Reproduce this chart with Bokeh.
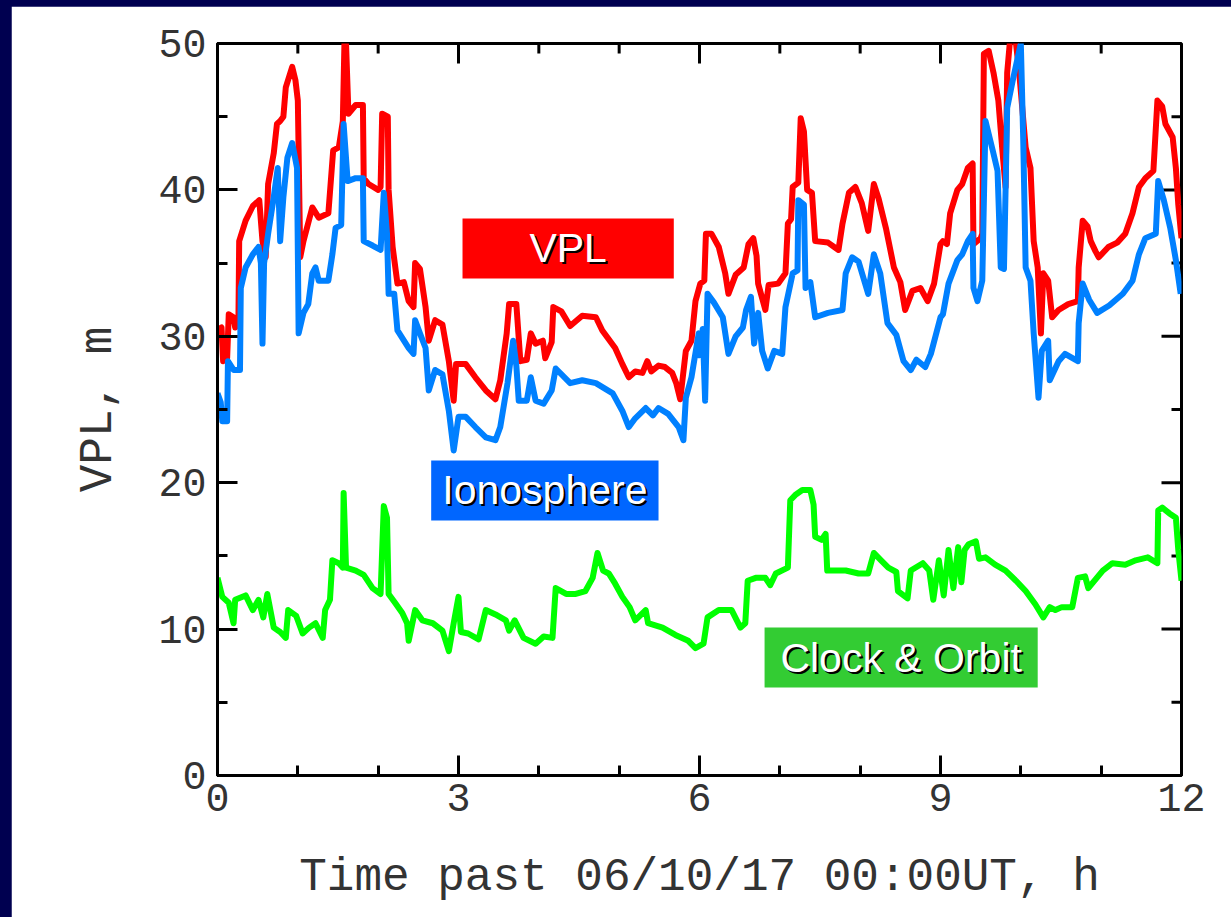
from bokeh.plotting import figure
from bokeh.layouts import column
from bokeh.models import Label, BoxAnnotation, FixedTicker, Range1d
from bokeh.embed import file_html
from bokeh.resources import INLINE

# ---------------- data ----------------
vpl_t = [0.00, 0.05, 0.07, 0.12, 0.14, 0.20, 0.22, 0.26, 0.27, 0.35, 0.44, 0.52, 0.56, 0.60, 0.63, 0.70,
         0.74, 0.78, 0.82, 0.85, 0.93, 0.97, 1.00, 1.03, 1.07, 1.18, 1.26, 1.38, 1.44, 1.51, 1.56, 1.58,
         1.60, 1.63, 1.72, 1.81, 1.82, 1.88, 2.00, 2.03, 2.05, 2.12, 2.13, 2.18, 2.24, 2.32, 2.38, 2.44,
         2.46, 2.52, 2.59, 2.63, 2.71, 2.80, 2.88, 2.94, 2.97, 3.09, 3.21, 3.34, 3.46, 3.52, 3.60, 3.63,
         3.72, 3.77, 3.85, 3.90, 3.96, 4.05, 4.08, 4.16, 4.18, 4.28, 4.39, 4.54, 4.71, 4.79, 4.95, 5.04,
         5.12, 5.20, 5.29, 5.35, 5.40, 5.49, 5.57, 5.66, 5.71, 5.76, 5.83, 5.90, 5.95, 6.01, 6.06, 6.08,
         6.15, 6.24, 6.32, 6.36, 6.45, 6.55, 6.61, 6.67, 6.71, 6.73, 6.82, 6.86, 6.98, 7.07, 7.10, 7.14,
         7.16, 7.23, 7.26, 7.30, 7.34, 7.40, 7.44, 7.60, 7.73, 7.78, 7.86, 7.94, 8.02, 8.10, 8.17, 8.23,
         8.32, 8.42, 8.50, 8.56, 8.65, 8.75, 8.84, 8.92, 9.00, 9.03, 9.08, 9.12, 9.21, 9.27, 9.34, 9.40,
         9.41, 9.50, 9.52, 9.54, 9.60, 9.66, 9.72, 9.77, 9.81, 9.83, 9.87, 9.93, 9.98, 10.06, 10.12, 10.16,
         10.21, 10.25, 10.28, 10.34, 10.39, 10.47, 10.59, 10.71, 10.72, 10.77, 10.83, 10.87, 10.93, 10.97,
         11.09, 11.20, 11.30, 11.39, 11.47, 11.55, 11.65, 11.70, 11.76, 11.80, 11.89, 11.93, 11.96, 12.00]
vpl_v = [30.4, 30.6, 28.3, 28.5, 31.5, 31.3, 30.6, 30.8, 36.5, 37.9, 38.9, 39.3, 36.5, 35.4, 40.4, 42.5,
         44.5, 44.7, 45.0, 47.0, 48.4, 47.5, 46.1, 35.4, 36.5, 38.8, 38.1, 38.4, 42.7, 42.9, 44.7, 50.0,
         50.0, 45.2, 45.8, 45.8, 40.8, 40.4, 40.0, 40.2, 45.2, 45.0, 40.0, 36.1, 33.6, 33.7, 32.4, 32.0,
         35.0, 34.6, 32.0, 29.7, 31.1, 30.8, 28.3, 25.6, 28.1, 28.1, 27.2, 26.3, 25.7, 27.0, 30.2, 32.2,
         32.2, 28.3, 28.4, 30.2, 29.5, 29.7, 28.5, 29.6, 32.0, 31.7, 30.7, 31.4, 31.3, 30.4, 29.2, 28.1,
         27.2, 27.6, 27.5, 28.3, 27.6, 28.0, 27.9, 27.5, 26.8, 25.7, 29.0, 29.7, 32.4, 33.6, 33.8, 37.0,
         37.0, 36.1, 34.3, 32.9, 34.2, 34.7, 36.3, 36.7, 35.5, 33.6, 31.8, 33.5, 33.6, 34.3, 37.7, 38.0,
         40.2, 40.5, 44.9, 44.0, 40.0, 39.8, 36.5, 36.4, 35.9, 37.7, 39.8, 40.2, 39.1, 37.2, 40.4, 39.4,
         37.4, 34.7, 33.7, 31.8, 33.1, 33.3, 32.4, 33.6, 36.3, 36.5, 36.3, 38.4, 40.0, 40.4, 41.5, 41.8,
         36.3, 36.7, 37.0, 49.3, 49.5, 48.0, 46.1, 42.7, 40.2, 48.0, 50.5, 50.5, 48.0, 42.9, 41.5, 36.5,
         34.7, 30.2, 34.3, 33.8, 31.3, 31.8, 32.2, 32.4, 34.7, 37.9, 37.5, 36.5, 35.8, 35.4,
         36.1, 36.4, 37.0, 38.4, 40.2, 40.8, 41.3, 46.1, 45.7, 44.5, 43.6, 41.5, 39.0, 36.7]

iono_t = [0.00, 0.04, 0.06, 0.12, 0.13, 0.20, 0.28, 0.29, 0.35, 0.44, 0.51, 0.54, 0.56, 0.58, 0.63, 0.70,
          0.75, 0.78, 0.82, 0.87, 0.93, 0.99, 1.01, 1.07, 1.13, 1.18, 1.22, 1.26, 1.38, 1.43, 1.47, 1.54,
          1.57, 1.62, 1.72, 1.81, 1.82, 1.93, 2.03, 2.07, 2.11, 2.13, 2.20, 2.24, 2.38, 2.44, 2.46, 2.52,
          2.59, 2.63, 2.71, 2.80, 2.88, 2.94, 3.00, 3.09, 3.21, 3.34, 3.46, 3.52, 3.61, 3.68, 3.72, 3.75,
          3.85, 3.90, 3.96, 4.06, 4.16, 4.21, 4.39, 4.54, 4.71, 4.92, 5.04, 5.12, 5.20, 5.33, 5.42, 5.49,
          5.61, 5.74, 5.80, 5.83, 5.90, 5.99, 6.00, 6.04, 6.07, 6.10, 6.18, 6.29, 6.36, 6.45, 6.54, 6.58,
          6.64, 6.68, 6.73, 6.78, 6.85, 6.93, 7.03, 7.07, 7.16, 7.22, 7.23, 7.30, 7.32, 7.38, 7.44, 7.60,
          7.78, 7.82, 7.90, 7.98, 8.10, 8.17, 8.25, 8.34, 8.45, 8.54, 8.63, 8.70, 8.81, 8.88, 9.00, 9.03,
          9.10, 9.21, 9.27, 9.34, 9.40, 9.41, 9.46, 9.52, 9.56, 9.65, 9.71, 9.75, 9.79, 9.81, 9.83, 9.90,
          10.00, 10.03, 10.06, 10.12, 10.16, 10.22, 10.26, 10.34, 10.36, 10.47, 10.55, 10.71, 10.72, 10.77,
          10.85, 10.95, 11.10, 11.27, 11.39, 11.47, 11.55, 11.68, 11.71, 11.78, 11.86, 11.93, 11.99]
iono_v = [26.1, 25.5, 24.2, 24.2, 28.3, 27.7, 27.7, 33.3, 34.7, 35.6, 36.1, 35.0, 29.5, 35.0, 37.0, 39.5,
          41.5, 36.5, 39.5, 42.2, 43.2, 41.5, 30.2, 31.6, 32.2, 34.3, 34.7, 33.8, 33.8, 35.6, 37.4, 37.6,
          44.5, 40.6, 40.8, 40.8, 36.5, 36.2, 35.9, 39.8, 37.0, 32.9, 32.9, 30.4, 29.2, 28.8, 31.1, 30.2,
          29.2, 26.3, 27.7, 27.4, 24.9, 22.2, 24.5, 24.5, 23.8, 23.1, 22.9, 23.8, 26.8, 29.7, 28.0, 25.6,
          25.6, 27.2, 25.6, 25.4, 26.3, 27.8, 26.8, 27.0, 26.8, 26.1, 24.9, 23.8, 24.4, 25.1, 24.6, 25.1,
          24.7, 23.8, 22.9, 25.8, 27.2, 30.2, 28.7, 30.5, 25.6, 32.9, 32.3, 31.3, 28.8, 30.0, 30.6, 31.8,
          32.7, 29.5, 31.6, 29.0, 27.8, 29.0, 28.8, 32.0, 34.3, 34.5, 39.3, 39.0, 33.3, 33.7, 31.3, 31.6,
          31.8, 34.3, 35.4, 35.1, 32.9, 35.6, 34.3, 30.9, 30.1, 28.3, 27.7, 28.4, 27.9, 28.8, 31.3, 31.5,
          33.6, 35.2, 35.6, 36.5, 37.0, 33.3, 32.4, 33.8, 44.7, 42.7, 41.3, 34.7, 34.6, 40.0, 45.6, 47.5,
          50.0, 43.4, 34.7, 33.8, 30.2, 25.8, 29.0, 29.7, 27.0, 28.3, 28.8, 28.3, 30.9, 33.6,
          32.5, 31.6, 32.1, 32.9, 33.8, 35.6, 36.7, 37.0, 40.6, 39.3, 37.4, 35.2, 32.9]

clock_t = [0.00, 0.06, 0.14, 0.20, 0.22, 0.35, 0.44, 0.51, 0.57, 0.62, 0.70, 0.78, 0.85, 0.88, 0.98, 1.06,
           1.14, 1.22, 1.31, 1.34, 1.40, 1.43, 1.51, 1.56, 1.57, 1.60, 1.72, 1.82, 1.93, 2.03, 2.07, 2.11,
           2.13, 2.21, 2.30, 2.36, 2.38, 2.46, 2.55, 2.68, 2.80, 2.88, 2.94, 3.00, 3.03, 3.12, 3.25, 3.34,
           3.46, 3.59, 3.63, 3.70, 3.81, 3.96, 4.06, 4.17, 4.21, 4.34, 4.46, 4.58, 4.67, 4.73, 4.80, 4.87,
           4.95, 5.04, 5.13, 5.20, 5.33, 5.36, 5.54, 5.70, 5.86, 5.95, 6.05, 6.10, 6.24, 6.40, 6.51, 6.57,
           6.60, 6.70, 6.82, 6.88, 6.95, 7.10, 7.13, 7.20, 7.28, 7.38, 7.42, 7.44, 7.52, 7.57, 7.59, 7.70,
           7.82, 7.98, 8.10, 8.17, 8.26, 8.35, 8.45, 8.47, 8.59, 8.63, 8.78, 8.86, 8.91, 8.98, 9.04, 9.10,
           9.16, 9.22, 9.26, 9.30, 9.35, 9.44, 9.48, 9.56, 9.68, 9.81, 9.94, 10.06, 10.18, 10.28, 10.36,
           10.43, 10.51, 10.64, 10.71, 10.80, 10.84, 11.02, 11.14, 11.30, 11.43, 11.58, 11.70, 11.71, 11.76,
           11.85, 11.93, 11.96, 12.00]
clock_v = [13.5, 12.2, 11.8, 10.4, 12.0, 12.3, 11.3, 12.0, 10.8, 12.4, 10.1, 9.8, 9.4, 11.3, 10.9, 9.7,
           10.1, 10.4, 9.4, 11.3, 12.0, 14.7, 14.5, 14.2, 19.3, 14.2, 14.0, 13.7, 12.8, 12.4, 18.4, 17.6,
           12.4, 11.8, 11.1, 10.4, 9.2, 11.3, 10.6, 10.4, 9.9, 8.5, 10.4, 12.2, 9.8, 9.7, 9.3, 11.3,
           11.0, 10.6, 9.9, 10.6, 9.4, 9.0, 9.5, 9.4, 12.8, 12.4, 12.4, 12.6, 13.5, 15.2, 14.0, 13.8,
           13.1, 12.2, 11.5, 10.6, 11.3, 10.4, 10.1, 9.6, 9.2, 8.7, 9.0, 10.8, 11.3, 11.3, 10.1, 10.4,
           13.3, 13.5, 13.5, 13.0, 13.8, 14.2, 18.8, 19.2, 19.5, 19.5, 18.5, 16.3, 16.1, 16.5, 14.0, 14.0,
           14.0, 13.8, 13.8, 15.2, 14.7, 14.2, 13.9, 12.6, 12.1, 14.0, 14.5, 14.0, 12.0, 14.7, 12.3, 15.4,
           12.8, 15.6, 13.2, 15.4, 15.8, 16.0, 14.8, 14.9, 14.4, 14.0, 13.3, 12.6, 11.7, 10.8, 11.5,
           11.3, 11.5, 11.5, 13.5, 13.6, 12.8, 14.0, 14.5, 14.4, 14.7, 14.9, 14.5, 18.1, 18.3,
           17.9, 17.6, 15.4, 13.3]

x_ticks = [0, 3, 6, 9, 12]
x_minor = list(range(0, 13))
y_ticks = [0, 10, 20, 30, 40, 50]
y_minor = list(range(0, 51, 5))
x_title = "Time past 06/10/17 00:00UT, h"
y_title = "VPL, m"
series_names = ["VPL", "Ionosphere", "Clock & Orbit"]

# ---------------- figure ----------------
X0, X1, Y0, Y1 = 0, 12, 0, 50
FW, FH = 964, 732          # frame size in px
BL, BR, BT, BB = 206, 50, 37, 142
MONO = "Liberation Mono"
TXT = "#333333"

fig = figure(width=BL + FW + BR, height=BT + FH + BB, output_backend="svg", toolbar_location=None,
             x_range=Range1d(X0, X1), y_range=Range1d(Y0, Y1),
             min_border_left=BL, min_border_right=BR, min_border_top=BT, min_border_bottom=BB,
             background_fill_color="white", border_fill_color="white")
fig.grid.visible = False
fig.outline_line_color = "black"
fig.outline_line_width = 3

for ax in (fig.xaxis[0], fig.yaxis[0]):
    ax.axis_line_width = 3
    ax.axis_line_color = "black"
    ax.major_tick_in = 20
    ax.major_tick_out = 0
    ax.minor_tick_in = 10
    ax.minor_tick_out = 0
    ax.major_tick_line_width = 3
    ax.minor_tick_line_width = 3
    ax.major_tick_line_color = "black"
    ax.minor_tick_line_color = "black"
    ax.major_label_text_font = MONO
    ax.major_label_text_color = TXT
    ax.major_label_text_font_size = "40px"
    ax.axis_label_text_font = MONO
    ax.axis_label_text_font_size = "46px"
    ax.axis_label_text_font_style = "normal"
    ax.axis_label_text_color = TXT

fig.xaxis.ticker = FixedTicker(ticks=x_ticks, minor_ticks=x_minor)
fig.yaxis.ticker = FixedTicker(ticks=y_ticks, minor_ticks=y_minor)
fig.xaxis.axis_label = x_title
fig.yaxis.axis_label = y_title
fig.xaxis.major_label_standoff = 8
fig.yaxis.major_label_standoff = 11
fig.xaxis.axis_label_standoff = 38
fig.yaxis.axis_label_standoff = 30

# mirrored ticks on the top and right edges (inward)
dy_major = 20 * (Y1 - Y0) / FH
dy_minor = 10 * (Y1 - Y0) / FH
dx_major = 20 * (X1 - X0) / FW
dx_minor = 10 * (X1 - X0) / FW
top_x = [t for t in x_minor]
top_len = [dy_major if t in x_ticks else dy_minor for t in x_minor]
fig.segment(x0=top_x, y0=[Y1] * len(top_x), x1=top_x, y1=[Y1 - d for d in top_len],
            line_color="black", line_width=3)
right_y = [v for v in y_minor]
right_len = [dx_major if v in y_ticks else dx_minor for v in y_minor]
fig.segment(x0=[X1] * len(right_y), y0=right_y, x1=[X1 - d for d in right_len], y1=right_y,
            line_color="black", line_width=3)

# ---------------- lines ----------------
fig.line(clock_t, clock_v, line_color="#00ff00", line_width=6, line_join="round")
fig.line(vpl_t, vpl_v, line_color="#ff0000", line_width=6, line_join="round")
fig.line(iono_t, iono_v, line_color="#0080ff", line_width=6, line_join="round")

# ---------------- labelled boxes ----------------
boxes = [
    # name, left, right, bottom, top, colour
    (series_names[0], 3.05, 5.68, 33.95, 38.05, "#ff0000"),
    (series_names[1], 2.66, 5.49, 17.42, 21.52, "#0066ff"),
    (series_names[2], 6.81, 10.21, 6.01, 10.11, "#33cc33"),
]
for name, l, r, b, t, c in boxes:
    fig.add_layout(BoxAnnotation(left=l, right=r, bottom=b, top=t, fill_color=c, fill_alpha=1.0,
                                 line_alpha=0, level="overlay"))
    cx, cy = (l + r) / 2, (b + t) / 2
    fig.add_layout(Label(x=cx, y=cy, x_offset=2, y_offset=-2, text=name, text_align="center",
                         text_baseline="middle", text_font="Liberation Sans", text_font_size="41px",
                         text_color="black", level="overlay"))
    fig.add_layout(Label(x=cx, y=cy, text=name, text_align="center", text_baseline="middle",
                         text_font="Liberation Sans", text_font_size="41px", text_color="white",
                         level="overlay"))

# navy slide border on the left and top, as in the reference
p = column(fig, styles={"background-color": "#000050", "padding-left": "11px", "padding-top": "6px"})

open("out.html", "w").write(file_html(p, INLINE))
